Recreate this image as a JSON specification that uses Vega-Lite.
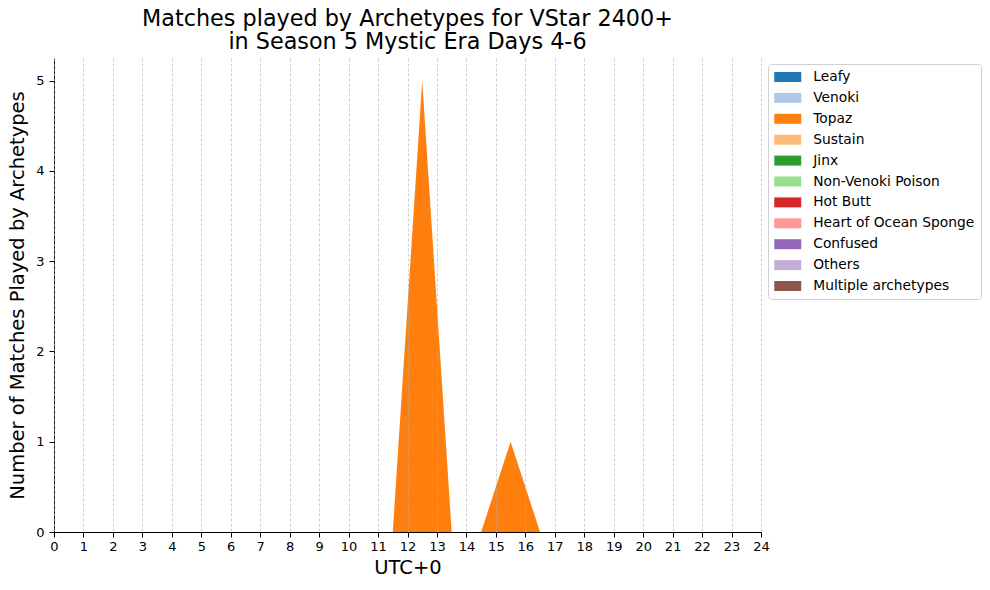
{
  "$schema": "https://vega.github.io/schema/vega-lite/v6.json",
  "autosize": "none",
  "width": 707,
  "height": 474,
  "padding": {"left": 54, "top": 58, "right": 229, "bottom": 58},
  "background": "white",
  "config": {
    "font": "DejaVu Sans",
    "view": {"stroke": null}
  },
  "title": {
    "text": ["Matches played by Archetypes for VStar 2400+", "in Season 5 Mystic Era Days 4-6"],
    "fontSize": 22.3,
    "fontWeight": "normal",
    "color": "black",
    "anchor": "middle",
    "baseline": "bottom",
    "lineHeight": 23,
    "offset": -18
  },
  "data": {
    "values": [
      {"hour": 0.5, "archetype": "Topaz", "matches": 0},
      {"hour": 1.5, "archetype": "Topaz", "matches": 0},
      {"hour": 2.5, "archetype": "Topaz", "matches": 0},
      {"hour": 3.5, "archetype": "Topaz", "matches": 0},
      {"hour": 4.5, "archetype": "Topaz", "matches": 0},
      {"hour": 5.5, "archetype": "Topaz", "matches": 0},
      {"hour": 6.5, "archetype": "Topaz", "matches": 0},
      {"hour": 7.5, "archetype": "Topaz", "matches": 0},
      {"hour": 8.5, "archetype": "Topaz", "matches": 0},
      {"hour": 9.5, "archetype": "Topaz", "matches": 0},
      {"hour": 10.5, "archetype": "Topaz", "matches": 0},
      {"hour": 11.5, "archetype": "Topaz", "matches": 0},
      {"hour": 12.5, "archetype": "Topaz", "matches": 5},
      {"hour": 13.5, "archetype": "Topaz", "matches": 0},
      {"hour": 14.5, "archetype": "Topaz", "matches": 0},
      {"hour": 15.5, "archetype": "Topaz", "matches": 1},
      {"hour": 16.5, "archetype": "Topaz", "matches": 0},
      {"hour": 17.5, "archetype": "Topaz", "matches": 0},
      {"hour": 18.5, "archetype": "Topaz", "matches": 0},
      {"hour": 19.5, "archetype": "Topaz", "matches": 0},
      {"hour": 20.5, "archetype": "Topaz", "matches": 0},
      {"hour": 21.5, "archetype": "Topaz", "matches": 0},
      {"hour": 22.5, "archetype": "Topaz", "matches": 0},
      {"hour": 23.5, "archetype": "Topaz", "matches": 0}
    ]
  },
  "mark": {"type": "area", "interpolate": "linear", "opacity": 1},
  "encoding": {
    "x": {
      "field": "hour",
      "type": "quantitative",
      "scale": {"domain": [0, 24], "nice": false, "zero": false},
      "axis": {
        "title": "UTC+0",
        "titleFontSize": 19.5,
        "titleFontWeight": "normal",
        "titleColor": "black",
        "titlePadding": 5,
        "values": [0,1,2,3,4,5,6,7,8,9,10,11,12,13,14,15,16,17,18,19,20,21,22,23,24],
        "format": "d",
        "labelFontSize": 13,
        "labelColor": "black",
        "labelPadding": 3,
        "labelFlush": false,
        "labelOverlap": false,
        "domainColor": "black",
        "domainWidth": 1,
        "tickColor": "black",
        "tickSize": 5,
        "grid": true,
        "gridColor": "#b0b0b0",
        "gridWidth": 0.6,
        "gridDash": [3, 2],
        "zindex": 1
      }
    },
    "y": {
      "field": "matches",
      "type": "quantitative",
      "stack": "zero",
      "scale": {"domain": [0, 5.25], "nice": false},
      "axis": {
        "title": "Number of Matches Played by Archetypes",
        "titleFontSize": 19.5,
        "titleFontWeight": "normal",
        "titleColor": "black",
        "titlePadding": 8,
        "values": [0, 1, 2, 3, 4, 5],
        "format": "d",
        "labelFontSize": 13,
        "labelColor": "black",
        "labelPadding": 5,
        "labelFlush": false,
        "domainColor": "black",
        "domainWidth": 1,
        "tickColor": "black",
        "tickSize": 5,
        "grid": false
      }
    },
    "color": {
      "field": "archetype",
      "type": "nominal",
      "sort": null,
      "scale": {
        "domain": ["Leafy", "Venoki", "Topaz", "Sustain", "Jinx", "Non-Venoki Poison", "Hot Butt", "Heart of Ocean Sponge", "Confused", "Others", "Multiple archetypes"],
        "range": ["#1f77b4", "#aec7e8", "#ff7f0e", "#ffbb78", "#2ca02c", "#98df8a", "#d62728", "#ff9896", "#9467bd", "#c5b0d5", "#8c564b"]
      },
      "legend": {
        "title": null,
        "orient": "none",
        "legendX": 714,
        "legendY": 6,
        "symbolType": "M-2,-0.74H2V0.74H-2Z",
        "symbolSize": 182,
        "symbolOffset": 6.75,
        "symbolStrokeWidth": 0,
        "symbolOpacity": 1,
        "labelFontSize": 13.8,
        "labelLimit": 400,
        "labelColor": "black",
        "labelOffset": 18.5,
        "rowPadding": 6.9,
        "padding": 6,
        "strokeColor": "#d0d0d0",
        "fillColor": "white",
        "cornerRadius": 3
      }
    }
  }
}
